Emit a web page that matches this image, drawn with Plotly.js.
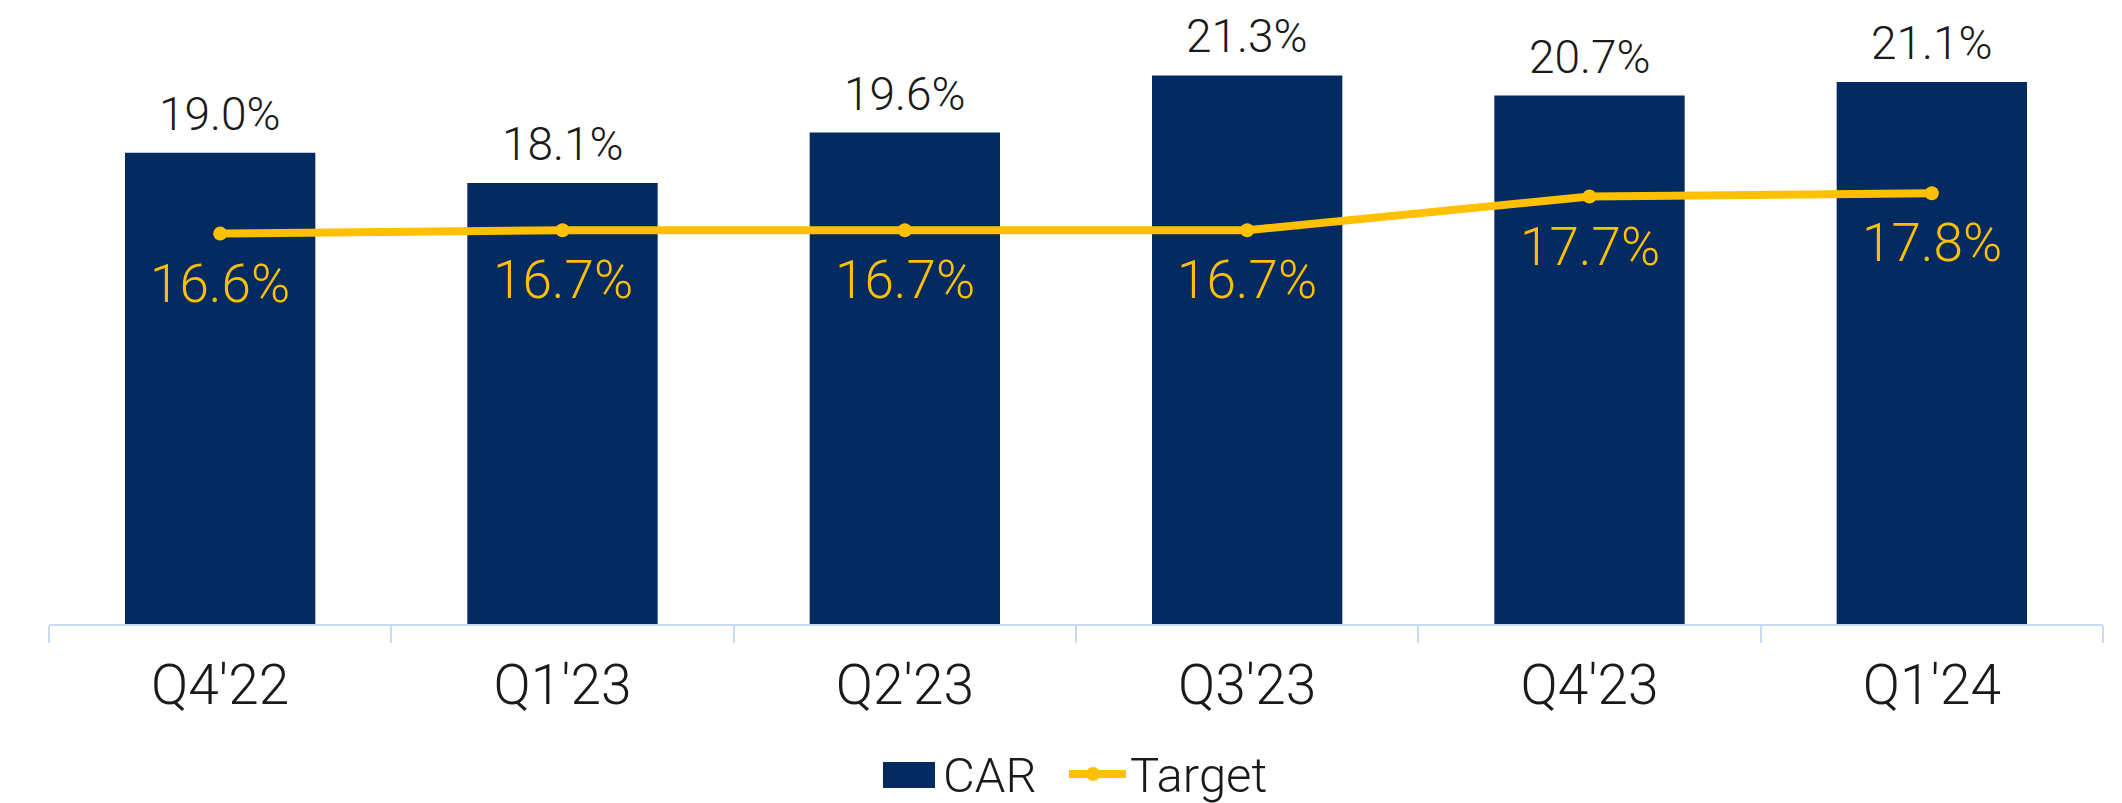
<!DOCTYPE html>
<html>
<head>
<meta charset="utf-8">
<script src="https://cdn.plot.ly/plotly-3.0.1.min.js"></script>
<style>
  html, body { margin: 0; padding: 0; background: #ffffff; }
  #chart { width: 2122px; height: 803px; }
</style>
</head>
<body>
<div id="chart"></div>
<script>
const categories = ["Q4'22", "Q1'23", "Q2'23", "Q3'23", "Q4'23", "Q1'24"];
const carValues = [19.0, 18.1, 19.6, 21.3, 20.7, 21.1];
const targetValues = [16.6, 16.7, 16.7, 16.7, 17.7, 17.8];
const carLabels = ["19.0%", "18.1%", "19.6%", "21.3%", "20.7%", "21.1%"];
const targetLabels = ["16.6%", "16.7%", "16.7%", "16.7%", "17.7%", "17.8%"];
const seriesNames = ["CAR", "Target"];

const FONT = "Roboto, 'Noto Sans', sans-serif";
const NAVY = "#032B61";
const GOLD = "#FFC000";
const TEXT = "#1a1a1a";

const W = 2122, H = 803;
const M = { l: 49, r: 19, t: 0, b: 179 };
const plotW = W - M.l - M.r, plotH = H - M.t - M.b;
// pixel -> paper helpers for the hand-drawn legend
const px = v => (v - M.l) / plotW;
const py = v => (H - M.b - v) / plotH;

const traces = [
  {
    type: "bar",
    name: seriesNames[0],
    x: categories,
    y: carValues,
    marker: { color: NAVY },
    hoverinfo: "skip",
    showlegend: false
  },
  {
    type: "scatter",
    mode: "lines+markers",
    name: seriesNames[1],
    x: categories,
    y: targetValues,
    line: { color: GOLD, width: 8 },
    marker: { color: GOLD, size: 14 },
    cliponaxis: false,
    hoverinfo: "skip",
    showlegend: false
  }
];

const annotations = [];
categories.forEach((c, i) => {
  annotations.push({
    x: c, y: carValues[i], xref: "x", yref: "y",
    text: carLabels[i], showarrow: false,
    yanchor: "middle", xanchor: "center", yshift: 39,
    font: { family: FONT, size: 46, color: TEXT, weight: 300 }
  });
  annotations.push({
    x: c, y: targetValues[i], xref: "x", yref: "y",
    text: targetLabels[i], showarrow: false,
    yanchor: "middle", xanchor: "center", yshift: -50,
    font: { family: FONT, size: 53, color: GOLD, weight: 300 }
  });
});

// Legend (drawn to match the reference swatch sizes)
const legY = 775;
annotations.push({
  x: px(941), y: py(legY), xref: "paper", yref: "paper",
  text: seriesNames[0], showarrow: false, xanchor: "left", yanchor: "middle",
  font: { family: FONT, size: 49, color: TEXT, weight: 300 }
});
annotations.push({
  x: px(1128), y: py(legY), xref: "paper", yref: "paper",
  text: seriesNames[1], showarrow: false, xanchor: "left", yanchor: "middle",
  font: { family: FONT, size: 49, color: TEXT, weight: 300 }
});

const shapes = [
  { type: "rect", xref: "paper", yref: "paper",
    x0: px(883), x1: px(935), y0: py(762), y1: py(788),
    fillcolor: NAVY, line: { width: 0 } },
  { type: "line", xref: "paper", yref: "paper",
    x0: px(1069), x1: px(1126), y0: py(774), y1: py(774),
    line: { color: GOLD, width: 8 } },
  { type: "circle", xref: "paper", yref: "paper",
    x0: px(1086), x1: px(1100), y0: py(781), y1: py(767),
    fillcolor: GOLD, line: { width: 0 } }
];

const layout = {
  width: W,
  height: H,
  margin: M,
  paper_bgcolor: "#ffffff",
  plot_bgcolor: "#ffffff",
  bargap: 0.444,
  font: { family: FONT, color: TEXT, weight: 300 },
  showlegend: false,
  annotations: annotations,
  shapes: shapes,
  xaxis: {
    type: "category",
    tickson: "boundaries",
    ticks: "outside",
    ticklen: 17,
    tickwidth: 2,
    tickcolor: "#C5DCF5",
    showline: true,
    linecolor: "#C5DCF5",
    linewidth: 2,
    showgrid: false,
    zeroline: false,
    automargin: false,
    tickfont: { family: FONT, size: 55, color: TEXT, weight: 300 },
    ticklabelstandoff: 12
  },
  yaxis: {
    range: [5, 23.54],
    showgrid: false,
    zeroline: false,
    showline: false,
    showticklabels: false,
    ticks: "",
    automargin: false
  }
};

Plotly.newPlot("chart", traces, layout, { staticPlot: true, displayModeBar: false });
</script>
</body>
</html>
